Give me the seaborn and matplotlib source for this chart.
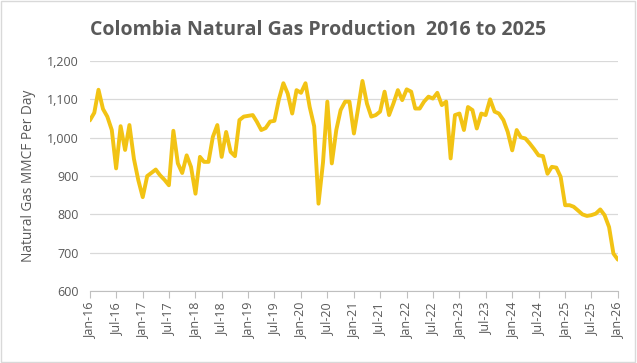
import pandas as pd
import numpy as np
import matplotlib.pyplot as plt
import matplotlib.dates as mdates
import seaborn as sns
from matplotlib.ticker import FuncFormatter

# monthly production, Jan-16 .. Jan-26 (MMCF per day)
months = pd.date_range("2016-01-01", "2026-01-01", freq="MS")
production = [
    1045, 1065, 1125, 1075, 1055, 1020, 920, 1030, 968, 1033, 945, 890,
    845, 900, 908, 917, 902, 890, 876, 1018, 933, 908, 954, 924,
    854, 950, 937, 937, 1002, 1033, 950, 1015, 963, 952, 1046, 1055,
    1057, 1059, 1042, 1020, 1025, 1042, 1044, 1100, 1142, 1115, 1063, 1124,
    1117, 1142, 1080, 1030, 828, 935, 1094, 933, 1020, 1072, 1094, 1094,
    1011, 1081, 1148, 1089, 1055, 1059, 1068, 1120, 1059, 1089, 1124, 1098,
    1126, 1120, 1076, 1076, 1094, 1107, 1102, 1117, 1085, 1094, 946, 1059,
    1063, 1020, 1080, 1072, 1024, 1063, 1059, 1100, 1068, 1063, 1046, 1015,
    967, 1020, 1001, 998, 985, 970, 954, 952, 906, 924, 922, 898,
    824, 824, 820, 810, 800, 796, 798, 802, 813, 798, 767, 698,
    682,
]

df = pd.DataFrame({"Month": months, "Production": production})

sns.set_style("white")
plt.rcParams['font.family'] = ['Open Sans', 'DejaVu Sans']

fig = plt.figure(figsize=(6.37, 3.63), dpi=100)
ax = fig.add_axes([0.141, 0.198, 0.829, 0.634])

sns.lineplot(data=df, x="Month", y="Production", color="#F2C314", linewidth=2.8, ax=ax)

ax.set_ylim(600, 1200)
ax.set_yticks(range(600, 1201, 100))
ax.yaxis.set_major_formatter(FuncFormatter(lambda v, p: f"{int(v):,}"))
ax.set_xlim(months[0], months[-1])
ax.xaxis.set_major_locator(mdates.MonthLocator(bymonth=[1, 7]))
ax.xaxis.set_major_formatter(mdates.DateFormatter("%b-%y"))
plt.setp(ax.get_xticklabels(), rotation=90)

ax.grid(axis="y", color="#d9d9d9", linewidth=0.9)
ax.set_axisbelow(True)
for s in ["top", "right", "left"]:
    ax.spines[s].set_visible(False)
ax.spines["bottom"].set_color("#bfbfbf")
ax.tick_params(axis="x", colors="#bfbfbf", labelcolor="#595959", labelsize=9,
               length=5, direction="out", bottom=True)
ax.tick_params(axis="y", labelcolor="#595959", labelsize=9, length=0, pad=8)

ax.set_xlabel("")
ax.set_ylabel("Natural Gas MMCF Per Day", color="#595959", fontsize=9.8, labelpad=8)

fig.text(0.5, 0.918, "Colombia Natural Gas Production  2016 to 2025", ha="center",
         va="center", fontsize=14, fontweight="bold", color="#595959")

fig.patches.append(plt.Rectangle((0.002, 0.003), 0.995, 0.994, transform=fig.transFigure,
                                 fill=False, edgecolor="#d9d9d9", linewidth=1))

plt.savefig("out.png", dpi=100)
plt.close()
